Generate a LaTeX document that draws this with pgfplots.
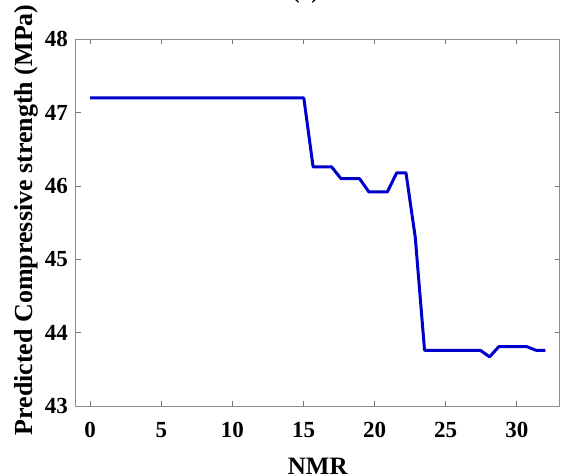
\documentclass[border=0pt]{standalone}
\usepackage{fontspec}
\setmainfont{Liberation Serif}
\usepackage{pgfplots}
\pgfplotsset{compat=1.18}
\definecolor{lineblue}{RGB}{0,0,205}
\begin{document}
\begin{tikzpicture}
\begin{axis}[
  at={(0pt,0pt)}, anchor=south west,
  scale only axis,
  width=483.5pt, height=366.7pt,
  xmin=-1, xmax=33, ymin=43, ymax=48,
  xtick={0,5,10,15,20,25,30},
  ytick={43,44,45,46,47,48},
  tick align=inside,
  major tick length=5pt,
  axis line style={black!45, line width=1pt},
  every tick/.style={black!55, line width=0.8pt},
  /pgf/number format/assume math mode=true,
  tick label style={font=\bfseries\fontsize{23}{23}\selectfont},
  xticklabel style={anchor=base, inner sep=0pt, yshift=-31.5pt},
  yticklabel style={anchor=east, inner sep=0pt, xshift=-8pt},
  xlabel={NMR},
  ylabel={Predicted Compressive strength (MPa)},
  label style={font=\bfseries\fontsize{25}{25}\selectfont},
  xlabel style={at={(axis description cs:0.5,0)}, anchor=base, inner sep=0pt, yshift=-68pt},
  ylabel style={at={(axis description cs:0,0.5)}, anchor=base, inner sep=0pt, yshift=43pt, xshift=2.7pt, font=\bfseries\fontsize{26}{26}\selectfont},
]
\addplot[lineblue, line width=3pt, line join=round] coordinates {
(0,47.20) (15.020,47.20)
(15.673,46.26) (16.980,46.26)
(17.633,46.10) (18.939,46.10)
(19.592,45.92) (20.898,45.92)
(21.551,46.18) (22.204,46.18)
(22.857,45.30)
(23.510,43.76) (27.429,43.76)
(28.082,43.67)
(28.735,43.81) (30.694,43.81)
(31.347,43.76) (32.000,43.76)
};
\end{axis}
\node[anchor=base, inner sep=0pt, font=\bfseries\fontsize{23}{23}\selectfont] at (229.6pt,407pt) {(a)};
\pgfresetboundingbox
\useasboundingbox (-76pt,-70pt) rectangle (491pt,406pt);
\end{tikzpicture}
\end{document}
